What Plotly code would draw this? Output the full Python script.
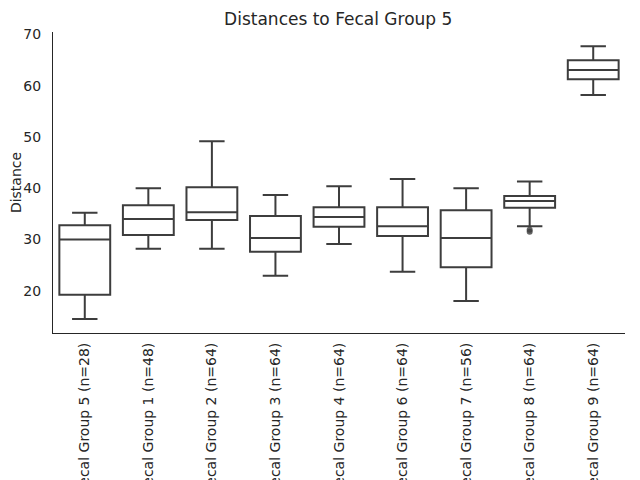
import plotly.graph_objects as go

categories = ["Fecal Group 5 (n=28)", "Fecal Group 1 (n=48)", "Fecal Group 2 (n=64)",
              "Fecal Group 3 (n=64)", "Fecal Group 4 (n=64)", "Fecal Group 6 (n=64)",
              "Fecal Group 7 (n=56)", "Fecal Group 8 (n=64)", "Fecal Group 9 (n=64)"]
lower_whisker = [14.5, 28.2, 28.2, 22.9, 29.1, 23.7, 18.0, 32.6, 58.2]
q1 = [19.2, 30.9, 33.8, 27.6, 32.5, 30.7, 24.6, 36.2, 61.3]
median = [30.0, 34.0, 35.3, 30.3, 34.4, 32.6, 30.3, 37.5, 63.1]
q3 = [32.8, 36.7, 40.2, 34.6, 36.3, 36.3, 35.7, 38.5, 65.0]
upper_whisker = [35.2, 40.0, 49.2, 38.7, 40.4, 41.8, 40.0, 41.3, 67.7]
outlier_cat = ["Fecal Group 8 (n=64)", "Fecal Group 8 (n=64)"]
outlier_val = [31.9, 31.5]

dark = "#3d3d3d"
fig = go.Figure()
fig.add_trace(go.Box(
    x=categories, q1=q1, median=median, q3=q3,
    lowerfence=lower_whisker, upperfence=upper_whisker,
    line=dict(color=dark, width=2), fillcolor="white",
    width=0.8, whiskerwidth=0.5, boxpoints=False, showlegend=False,
))
fig.add_trace(go.Scatter(
    x=outlier_cat, y=outlier_val, mode="markers",
    marker=dict(color=dark, size=6, opacity=0.8), showlegend=False,
))
fig.update_layout(
    width=640, height=480,
    margin=dict(l=45, r=23, t=24, b=155),
    paper_bgcolor="white", plot_bgcolor="white",
    font=dict(family="DejaVu Sans", size=14, color="#262626"),
    title=dict(text="Distances to Fecal Group 5", x=0.516, xanchor="center",
               y=1 - 11 / 480, yanchor="middle", font=dict(size=17, color="#262626")),
    xaxis=dict(type="category", tickangle=-90, automargin=False, showgrid=False,
               showline=True, linecolor="#262626", linewidth=1.2, ticks="",
               tickfont=dict(size=14), range=[-0.5, 8.5], mirror=False,
               ticklabelstandoff=3),
    yaxis=dict(range=[11.75, 70.5], tickvals=[20, 30, 40, 50, 60, 70], showgrid=False,
               showline=True, linecolor="#262626", linewidth=1.2, ticks="", zeroline=False,
               automargin=False, ticklabelstandoff=8, tickfont=dict(size=14),
               title=dict(text="Distance", font=dict(size=14), standoff=9)),
)
fig.write_html("out.html")
